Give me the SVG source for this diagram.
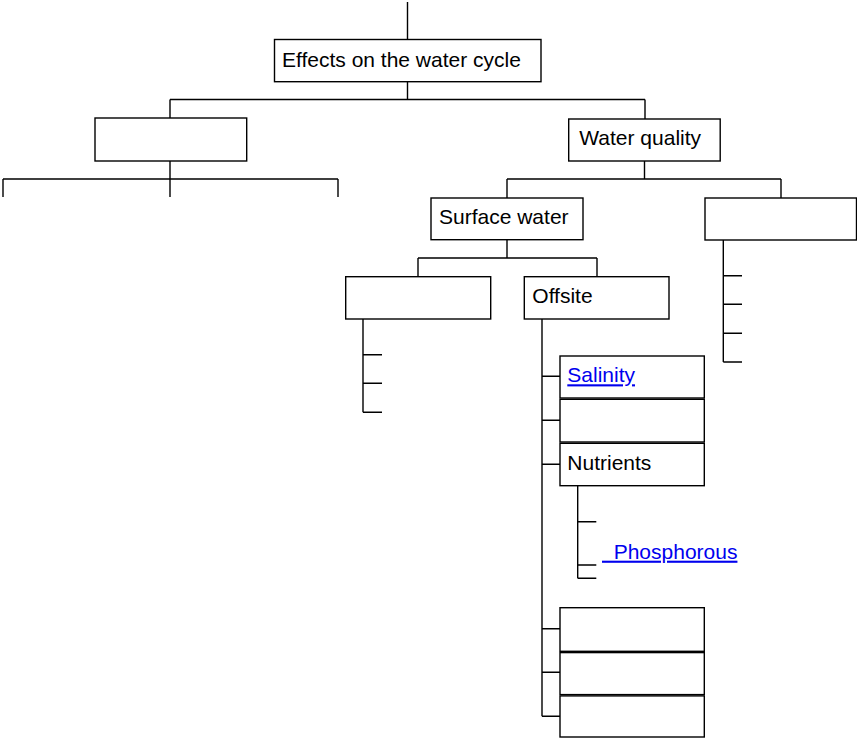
<svg xmlns="http://www.w3.org/2000/svg" width="857" height="738" viewBox="0 0 857 738">
<style>
.box{fill:#fff;stroke:#000;stroke-width:1.4}
.ln{fill:none;stroke:#000;stroke-width:1.4}
.t{font-family:"Liberation Sans",Arial,sans-serif;font-size:21px;fill:#000}
.lk{font-family:"Liberation Sans",Arial,sans-serif;font-size:21px;fill:#0000ee;text-decoration:underline}
</style>
<rect width="857" height="738" fill="#fff"/>
<g id="connectors" class="ln">
<path d="M407.5 2V39.5M407.5 81.7V99.5M170 99.5H645M170 99.5V118M645 99.5V119"/>
<path d="M170 161V179M3 179H338M3 179V197M170 179V197M338 179V197"/>
<path d="M644.5 161V179M507 179H781M507 179V198M781 179V198"/>
<path d="M723.3 240V362M723.3 275.7H742M723.3 304.3H742M723.3 333.3H742M723.3 362H742"/>
<path d="M507 240V258M418 258H597M418 258V277M597 258V277"/>
<path d="M363 319V412.3M363 354.7H382M363 383.3H382M363 412.3H382"/>
<path d="M542 319V716.3M542 376.3H560M542 420.3H560M542 464.3H560M542 628.7H560M542 672.3H560M542 716.3H560"/>
<path d="M577.7 485.7V578.3M577.7 521.7H596.3M577.7 565H596.3M577.7 578.3H596.3"/>
</g>
<g id="n-effects"><rect class="box" x="274.5" y="39.5" width="266.5" height="42.2"/><text class="t" x="282" y="66.7">Effects on the water cycle</text></g>
<g id="n-left"><rect class="box" x="95" y="118" width="151.7" height="43"/></g>
<g id="n-waterquality"><rect class="box" x="568.7" y="119" width="151.5" height="42"/><text class="t" x="579.3" y="145">Water quality</text></g>
<g id="n-surface"><rect class="box" x="431" y="198" width="152" height="41.7"/><text class="t" x="439" y="224.3">Surface water</text></g>
<g id="n-right"><rect class="box" x="705" y="198" width="151.5" height="42"/></g>
<g id="n-surface-left"><rect class="box" x="345.7" y="276.7" width="145" height="42.3"/></g>
<g id="n-offsite"><rect class="box" x="524.3" y="276.7" width="144.7" height="42.3"/><text class="t" x="532.3" y="303.3">Offsite</text></g>
<g id="n-salinity"><rect class="box" x="560" y="356" width="144.3" height="42"/><a><text class="lk" x="567.3" y="382.3">Salinity</text></a></g>
<g id="n-blank1"><rect class="box" x="560" y="399.3" width="144.3" height="42.7"/></g>
<g id="n-nutrients"><rect class="box" x="560" y="443.3" width="144.3" height="42.4"/><text class="t" x="567.3" y="469.7">Nutrients</text></g>
<g id="n-phosphorous"><text class="lk" x="602" y="558.7" xml:space="preserve">&#160;&#160;Phosphorous</text></g>
<g id="n-blank2"><rect class="box" x="560" y="607.7" width="144.3" height="43.6"/></g>
<g id="n-blank3"><rect class="box" x="560" y="652.6" width="144.3" height="42"/></g>
<g id="n-blank4"><rect class="box" x="560" y="695.9" width="144.3" height="41.1"/></g>
</svg>
